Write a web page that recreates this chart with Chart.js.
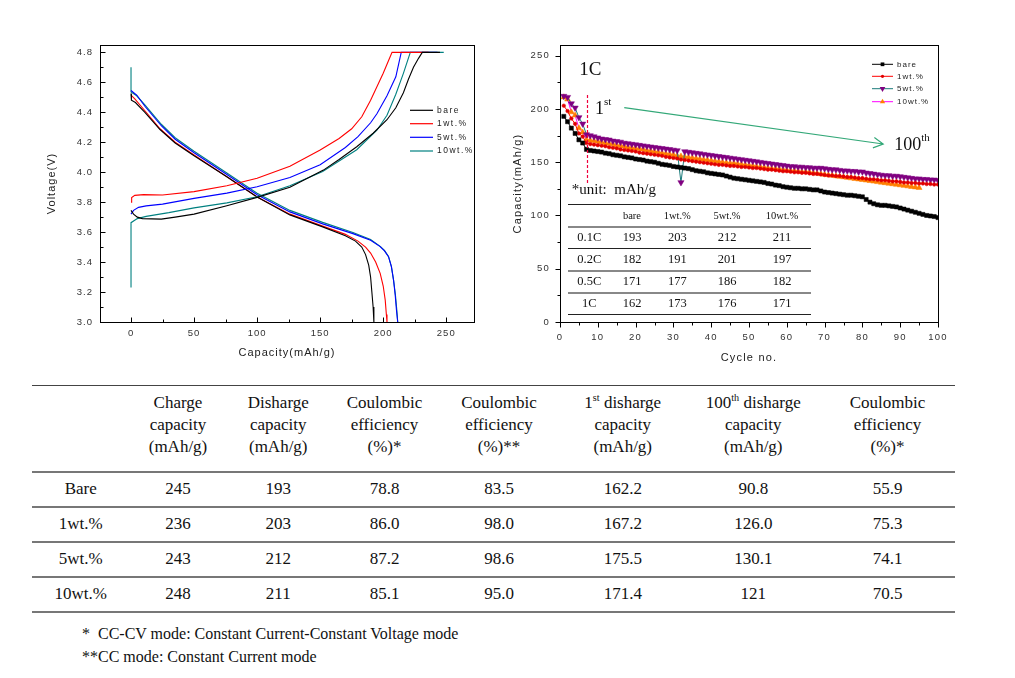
<!DOCTYPE html>
<html lang="en">
<head>
<meta charset="UTF-8" />
<title>Charge/discharge and cycling</title>
<script src="https://cdn.jsdelivr.net/npm/chart.js"></script>
<style>
  body { margin: 0; width: 1015px; height: 678px; position: relative; overflow: hidden; background: #fff; }
  .wrap { position: absolute; }
  table { position: absolute; border-collapse: collapse; table-layout: fixed; font-family: "Liberation Serif", "Times New Roman", serif; color: #111; }
  td { padding: 0; text-align: center; white-space: nowrap; }
  #main { left: 32px; top: 385px; width: 923px; font-size: 17px; }
  #main thead tr { height: 86px; border-top: 1px solid #444; border-bottom: 2px solid #777; }
  #main thead td { vertical-align: top; padding-top: 6px; line-height: 22px; }
  #main tbody tr { height: 35px; border-bottom: 2px solid #777; }
  #inset { left: 568px; top: 204px; width: 243px; font-size: 12.5px; }
  #inset thead tr { height: 22px; border-top: 1px solid #222; border-bottom: 2.5px solid #888; font-size: 10.5px; }
  #inset tbody tr { height: 22px; }
  #inset tbody tr.k { border-bottom: 1px solid #222; }
  #inset tbody tr.g { border-bottom: 2px solid #888; }
  sup { font-size: 60%; line-height: 0; }
  #notes { position: absolute; left: 82px; top: 622px; font-family: "Liberation Serif", "Times New Roman", serif; font-size: 16px; line-height: 23px; color: #111; }
</style>
</head>
<body>
<div class="wrap" style="left:0;top:0;width:490px;height:380px"><canvas id="voltChart"></canvas></div>
<div class="wrap" style="left:490px;top:0;width:525px;height:380px"><canvas id="cycleChart"></canvas></div>
<table id="inset"></table>
<table id="main"></table>
<div id="notes">*&nbsp; CC-CV mode: Constant Current-Constant Voltage mode<br>**CC mode: Constant Current mode</div>

<script>
  const seriesNames = ["bare", "1wt.%", "5wt.%", "10wt.%"];

  // voltage profiles [capacity, voltage]
  const bareCharge = [[0,3.745],[2,3.72],[5,3.70],[9,3.69],[24,3.687],[35,3.70],[50,3.72],[76,3.776],[100,3.832],[126,3.90],[152.6,4.014],[165,4.085],[179,4.17],[192,4.26],[203,4.35],[210,4.43],[216,4.53],[220,4.62],[224,4.70],[228,4.76],[231,4.8],[245,4.8]];
  const oneCharge = [[0,3.80],[0.5,3.83],[3,3.845],[10,3.85],[25,3.848],[50,3.87],[76,3.91],[100,3.96],[126,4.04],[150,4.148],[165,4.225],[175,4.29],[183,4.37],[190,4.48],[195,4.57],[200,4.66],[204,4.74],[207,4.8],[236,4.8]];
  const fiveCharge = [[0,3.72],[2,3.745],[6,3.765],[12,3.775],[25,3.787],[50,3.825],[76,3.86],[100,3.903],[126,3.965],[150,4.05],[170,4.165],[180,4.237],[190,4.33],[195,4.39],[203,4.51],[210,4.637],[214.3,4.8],[243,4.8]];
  const tenCharge = [[0,3.23],[0,3.663],[5,3.69],[12,3.705],[30,3.73],[50,3.762],[76,3.795],[100,3.836],[126,3.91],[152,4.005],[179,4.15],[195,4.28],[203,4.38],[210,4.52],[216,4.66],[221.5,4.8],[248,4.8]];
  const bareDis = [[0,4.525],[0.3,4.48],[3.5,4.465],[11,4.40],[23,4.285],[35,4.195],[50,4.11],[76,3.97],[100,3.835],[126,3.715],[152,3.635],[170,3.575],[178,3.54],[183,3.5],[186,3.45],[188.5,3.38],[190,3.3],[191,3.2],[192,3.1],[192.6,3.0]];
  const oneDis = [[0,4.515],[3,4.49],[11,4.41],[23,4.29],[35,4.2],[50,4.115],[76,3.97],[100,3.835],[126,3.72],[152,3.64],[170,3.585],[180,3.54],[186,3.5],[190,3.46],[194,3.4],[197.6,3.325],[200,3.24],[201.6,3.146],[202.5,3.05],[203,3.0]];
  const fiveDis = [[0,4.545],[4.5,4.515],[11,4.44],[24,4.31],[35,4.22],[50,4.13],[76,3.985],[100,3.85],[126,3.735],[152,3.655],[176,3.59],[190,3.545],[197.6,3.503],[201,3.475],[204.2,3.436],[206.5,3.37],[208.2,3.28],[209.5,3.18],[210.5,3.08],[211.5,3.0]];
  const tenDis = [[0,4.70],[0,4.535],[4.5,4.51],[11,4.45],[24,4.32],[35,4.23],[50,4.14],[76,3.995],[100,3.86],[126,3.745],[152,3.665],[176,3.597],[190,3.55],[197.6,3.505],[201,3.478],[204.2,3.438],[206.5,3.37],[208.2,3.28],[209.7,3.18],[210.8,3.08],[211.5,3.0]];

  // discharge capacity per cycle (cycle 1..n)
  const bareCycle = [193,188,182,177,171,168,162,161,160.5,160,
    159.5,158.5,158,157,156.5,156,155,154.5,154,153,
    152.5,152,151,150.5,150,149,148,147.5,147,146,
    145.5,145,144.5,144,143,142,141.5,141,140,139.5,
    139,138.5,138,137,136,135,134.5,134,133.5,133,
    132.5,132,131.5,131,130,129.5,128.5,128,127,126.5,
    126,125.5,125.5,125,125,124.5,124,124,123,122,
    121.5,121,120.5,120,119.5,119,119,118.5,118,117.5,
    115,112.5,111,110,109.5,109.5,109,108.5,108,107,
    106,105,104,103,102,101,100,99.5,99,98];
  const oneCycle = [203,198,191,186,177,174,168,167,166.5,166,
    165.5,165,164,163.5,163,162,161.5,161,160.5,160,
    159,158.5,158,157.5,157,156.5,156,155,154.5,154,
    153.5,152.5,152,151.5,151,150.5,150,149.5,149,148.5,
    148,147.5,147.5,147,146.5,146.5,146,145.5,145.5,145,
    144.5,144.5,144,143.5,143,143,142.5,142,141.5,141.5,
    141,140.5,140.5,140,140,139.5,139,139,138.5,138,
    137.5,137.5,137,137,136.5,136,136,135.5,135,135,
    134.5,134,134,133.5,133,133,132.5,132,132,131.5,
    131,131,130.5,130.5,130,130,129.5,129.5,129,129];
  const fiveCycle = [212,211,205,201,192,186,176,175,174,173,
    172,171.5,171,170,169.5,169,168,167.5,167,166.5,
    166,165.5,165,164.5,164,163.5,163,162.5,162,161.5,
    161,131,160,159.5,159,158.5,158,157.5,157,156.5,
    156,155.5,155,154.5,154,153.5,153,152.5,152,151.5,
    151,150.5,150,149.5,149,148.5,148,147.5,147,146.5,
    146,146,145.5,145.5,145,145,144.5,144.5,144.5,144,
    143.5,143,143,142.5,142,142,141.5,141.5,141,141,
    140,139.5,139,138.5,138,137.5,137.5,137,137,136.5,
    136,135.5,135,134.5,134.5,134,134,133.5,133.5,133];
  const tenCycle = [211,209,197,194,182,178,171,170.5,170,169.5,
    169,168,167.5,167,166,165.5,165,164,163.5,163,
    162.5,162,161,160.5,160,159.5,158.5,158,157.5,157,
    156,155.5,155,154.5,154,153.5,153,152.5,152,151.5,
    151,150.5,150,149.5,149,149,148.5,148,147.5,147,
    146.5,146,145.5,145,144.5,144,144,143.5,143,142.5,
    142,142,141.5,141,141,140.5,140,139.5,139,138.5,
    138,137.5,137,136.5,136,135.5,135,134.5,134,133.5,
    133,132.5,132,131.5,131,130.5,130,129.5,129,128.5,
    128,127.5,127,126.5,126];

  const capTicks = [0, 50, 100, 150, 200, 250];
  const voltTicks = [3.0, 3.2, 3.4, 3.6, 3.8, 4.0, 4.2, 4.4, 4.6, 4.8];
  const cycleTicks = [0, 10, 20, 30, 40, 50, 60, 70, 80, 90, 100];
  const cycCapTicks = [0, 50, 100, 150, 200, 250];

  // inset table
  const rates = ["0.1C", "0.2C", "0.5C", "1C"];
  const rateCaps = [[193,203,212,211],[182,191,201,197],[171,177,186,182],[162,173,176,171]];

  // summary table
  const headers = ["Charge<br>capacity<br>(mAh/g)", "Disharge<br>capacity<br>(mAh/g)", "Coulombic<br>efficiency<br>(%)*", "Coulombic<br>efficiency<br>(%)**", "1<sup>st</sup> disharge<br>capacity<br>(mAh/g)", "100<sup>th</sup> disharge<br>capacity<br>(mAh/g)", "Coulombic<br>efficiency<br>(%)*"];
  const rowNames = ["Bare", "1wt.%", "5wt.%", "10wt.%"];
  const chargeCap = ["245", "236", "243", "248"];
  const dischargeCap = ["193", "203", "212", "211"];
  const ceCCCV = ["78.8", "86.0", "87.2", "85.1"];
  const ceCC = ["83.5", "98.0", "98.6", "95.0"];
  const firstDis = ["162.2", "167.2", "175.5", "171.4"];
  const hundredthDis = ["90.8", "126.0", "130.1", "121"];
  const retention = ["55.9", "75.3", "74.1", "70.5"];

  const sans = '"Liberation Sans", Arial, sans-serif';
  const serif = '"Liberation Serif", "Times New Roman", serif';

  // build tables
  const insetEl = document.getElementById("inset");
  const iw = [42.5, 43, 47.5, 52, 58];
  let h = "<colgroup>" + iw.map((w) => `<col style="width:${w}px">`).join("") + "</colgroup>";
  h += "<thead><tr><td></td>" + seriesNames.map((s) => `<td>${s}</td>`).join("") + "</tr></thead><tbody>";
  rates.forEach((r, i) => {
    const cls = i === 1 || i === 2 ? "g" : "k";
    h += `<tr class="${cls}"><td>${r}</td>` + rateCaps[i].map((v) => `<td>${v}</td>`).join("") + "</tr>";
  });
  insetEl.innerHTML = h + "</tbody>";

  const mainEl = document.getElementById("main");
  const mw = [97.5, 97, 103.5, 109, 120, 127.5, 133.5, 135];
  const cols = [chargeCap, dischargeCap, ceCCCV, ceCC, firstDis, hundredthDis, retention];
  let m = "<colgroup>" + mw.map((w) => `<col style="width:${w}px">`).join("") + "</colgroup>";
  m += "<thead><tr><td></td>" + headers.map((t) => `<td>${t}</td>`).join("") + "</tr></thead><tbody>";
  rowNames.forEach((r, i) => {
    m += `<tr><td>${r}</td>` + cols.map((c) => `<td>${c[i]}</td>`).join("") + "</tr>";
  });
  mainEl.innerHTML = m + "</tbody>";

  // axes frame with major + minor ticks
  function drawFrame(chart, inward) {
    const { ctx, chartArea: a } = chart;
    ctx.save();
    ctx.strokeStyle = "#000";
    ctx.lineWidth = 1;
    ctx.strokeRect(a.left + 0.5, a.top + 0.5, a.right - a.left, a.bottom - a.top);
    const d = inward ? -1 : 1;
    const mark = (s, v, len) => {
      const p = Math.round(s.getPixelForValue(v)) + 0.5;
      if (s.axis === "x") {
        ctx.moveTo(p, a.bottom + 0.5);
        ctx.lineTo(p, a.bottom + 0.5 + d * len);
      } else {
        ctx.moveTo(a.left + 0.5, p);
        ctx.lineTo(a.left + 0.5 - d * len, p);
      }
    };
    ctx.beginPath();
    [chart.scales.x, chart.scales.y].forEach((s) => {
      const vals = s.ticks.map((t) => t.value);
      const step = vals[1] - vals[0];
      vals.forEach((v, i) => {
        mark(s, v, 5);
        if (i === 0 && v - step / 2 > s.min) mark(s, v - step / 2, 3);
        if (v + step / 2 < s.max) mark(s, v + step / 2, 3);
      });
    });
    ctx.stroke();
    ctx.restore();
  }

  function marker(ctx, style, x, y, r, color) {
    ctx.fillStyle = color;
    ctx.beginPath();
    if (style === "rect") ctx.rect(x - r * 0.71, y - r * 0.71, r * 1.42, r * 1.42);
    else if (style === "circle") ctx.arc(x, y, r, 0, Math.PI * 2);
    else if (style === "down") { ctx.moveTo(x - r * 0.87, y - r * 0.5); ctx.lineTo(x + r * 0.87, y - r * 0.5); ctx.lineTo(x, y + r); }
    else { ctx.moveTo(x - r * 0.87, y + r * 0.5); ctx.lineTo(x + r * 0.87, y + r * 0.5); ctx.lineTo(x, y - r); }
    ctx.closePath();
    ctx.fill();
  }

  const voltColors = ["#000000", "#ff0000", "#0000ff", "#008080"];

  const voltPlugin = {
    id: "voltFrame",
    beforeDraw(chart) { chart.ctx.letterSpacing = "1px"; },
    afterDraw(chart) {
      drawFrame(chart, true);
      const ctx = chart.ctx;
      ctx.save();
      ctx.letterSpacing = "1.5px";
      ctx.font = "8.5px " + sans;
      ctx.textBaseline = "middle";
      [110.3, 123.7, 137.3, 151].forEach((y, i) => {
        ctx.strokeStyle = voltColors[i];
        ctx.lineWidth = 1.2;
        ctx.beginPath();
        ctx.moveTo(410, y);
        ctx.lineTo(433, y);
        ctx.stroke();
        ctx.fillStyle = "#222";
        ctx.fillText(seriesNames[i], 437, y);
      });
      ctx.restore();
    },
  };

  const line = (data, color) => ({ data, borderColor: color, backgroundColor: color, showLine: true, pointRadius: 0, borderWidth: 1.1, fill: false });

  new Chart(document.getElementById("voltChart"), {
    type: "scatter",
    data: {
      datasets: [
        line(bareCharge, voltColors[0]), line(oneCharge, voltColors[1]), line(fiveCharge, voltColors[2]), line(tenCharge, voltColors[3]),
        line(bareDis, voltColors[0]), line(oneDis, voltColors[1]), line(fiveDis, voltColors[2]), line(tenDis, voltColors[3]),
      ],
    },
    options: {
      animation: false,
      responsive: true,
      maintainAspectRatio: false,
      layout: { padding: { left: 0, top: 45, right: 16, bottom: 10 } },
      plugins: { legend: { display: false }, tooltip: { enabled: false } },
      scales: {
        x: {
          type: "linear", min: -24.6, max: 272,
          afterBuildTicks: (s) => { s.ticks = capTicks.map((v) => ({ value: v })); },
          afterFit: (s) => { s.height = 48; },
          grid: { display: false, drawTicks: false }, border: { display: false },
          ticks: { autoSkip: false, maxRotation: 0, padding: 6, color: "#333", font: { family: sans, size: 9.5 } },
          title: { display: true, text: "Capacity(mAh/g)", color: "#222", font: { family: sans, size: 11 }, padding: { top: 0, bottom: 10.4 } },
        },
        y: {
          type: "linear", min: 3.0, max: 4.849,
          afterBuildTicks: (s) => { s.ticks = voltTicks.map((v) => ({ value: v })); },
          afterFit: (s) => { s.width = 100; },
          grid: { display: false, drawTicks: false }, border: { display: false },
          ticks: { autoSkip: false, padding: 7, color: "#333", font: { family: sans, size: 9.5 }, callback: (v) => Number(v).toFixed(1) },
          title: { display: true, text: "Voltage(V)", color: "#222", font: { family: sans, size: 11 }, padding: { top: 45.4, bottom: 0 } },
        },
      },
    },
    plugins: [voltPlugin],
  });

  const cycleStyles = [
    { line: "#000000", mark: "#000000", style: "rect", r: 2.9 },
    { line: "#ff0000", mark: "#e00000", style: "circle", r: 1.8 },
    { line: "#1a7a7a", mark: "#800080", style: "down", r: 3.6 },
    { line: "#ff00ff", mark: "#ff8000", style: "up", r: 3.4 },
  ];
  const cycleData = [bareCycle, oneCycle, fiveCycle, tenCycle];

  const cyclePlugin = {
    id: "cycleFrame",
    beforeDraw(chart) { chart.ctx.letterSpacing = "1.2px"; },
    afterDraw(chart) {
      drawFrame(chart, false);
      const { ctx, scales: { x, y } } = chart;
      ctx.save();
      ctx.letterSpacing = "1px";
      ctx.font = "8px " + sans;
      ctx.textBaseline = "middle";
      [64.3, 76.3, 88.7, 101.7].forEach((yy, i) => {
        const st = cycleStyles[i];
        ctx.strokeStyle = st.line;
        ctx.lineWidth = 1;
        ctx.beginPath();
        ctx.moveTo(382, yy);
        ctx.lineTo(403, yy);
        ctx.stroke();
        marker(ctx, st.style, 392.5, yy, st.r * 0.9, st.mark);
        ctx.fillStyle = "#222";
        ctx.fillText(seriesNames[i], 407, yy);
      });

      ctx.letterSpacing = "0px";
      // first 1C cycle marker
      ctx.strokeStyle = "#f0003c";
      ctx.lineWidth = 1.2;
      ctx.setLineDash([3, 2]);
      ctx.beginPath();
      const dx = Math.round(x.getPixelForValue(7.2)) + 0.5;
      ctx.moveTo(dx, y.getPixelForValue(213));
      ctx.lineTo(dx, y.getPixelForValue(130.2));
      ctx.stroke();
      ctx.setLineDash([]);

      // arrow 1st -> 100th
      const x0 = x.getPixelForValue(17), y0 = y.getPixelForValue(201.2);
      const x1 = x.getPixelForValue(85.5), y1 = y.getPixelForValue(167.1);
      const ang = Math.atan2(y1 - y0, x1 - x0);
      ctx.strokeStyle = "#33a878";
      ctx.lineWidth = 1.2;
      ctx.beginPath();
      ctx.moveTo(x0, y0);
      ctx.lineTo(x1, y1);
      ctx.moveTo(x1 - 11 * Math.cos(ang - 0.5), y1 - 11 * Math.sin(ang - 0.5));
      ctx.lineTo(x1, y1);
      ctx.lineTo(x1 - 11 * Math.cos(ang + 0.5), y1 - 11 * Math.sin(ang + 0.5));
      ctx.stroke();

      ctx.fillStyle = "#111";
      ctx.textAlign = "left";
      ctx.textBaseline = "middle";
      ctx.font = "19px " + serif;
      ctx.fillText("1C", x.getPixelForValue(5.1), y.getPixelForValue(236.6));
      ctx.font = "18px " + serif;
      let px = x.getPixelForValue(9.26), py = y.getPixelForValue(200);
      ctx.fillText("1", px, py);
      let w = ctx.measureText("1").width;
      ctx.font = "11px " + serif;
      ctx.fillText("st", px + w, py - 7);
      ctx.font = "18px " + serif;
      px = x.getPixelForValue(88.4); py = y.getPixelForValue(166);
      ctx.fillText("100", px, py);
      w = ctx.measureText("100").width;
      ctx.font = "11px " + serif;
      ctx.fillText("th", px + w, py - 7);
      ctx.font = "15px " + serif;
      ctx.fillText("*unit:  mAh/g", x.getPixelForValue(3.1), y.getPixelForValue(124));
      ctx.restore();
    },
  };

  new Chart(document.getElementById("cycleChart"), {
    type: "scatter",
    data: {
      datasets: cycleData.map((vals, i) => ({
        label: seriesNames[i],
        data: vals.map((v, k) => ({ x: k + 1, y: v })),
        showLine: true,
        borderColor: cycleStyles[i].line,
        borderWidth: 1,
        pointStyle: cycleStyles[i].style === "rect" ? "rect" : cycleStyles[i].style === "circle" ? "circle" : "triangle",
        rotation: cycleStyles[i].style === "down" ? 180 : 0,
        pointRadius: cycleStyles[i].r,
        pointBackgroundColor: cycleStyles[i].mark,
        pointBorderColor: cycleStyles[i].mark,
        pointBorderWidth: 0.5,
      })),
    },
    options: {
      animation: false,
      responsive: true,
      maintainAspectRatio: false,
      layout: { padding: { left: 0, top: 45, right: 77, bottom: 10 } },
      plugins: { legend: { display: false }, tooltip: { enabled: false } },
      scales: {
        x: {
          type: "linear", min: 0, max: 100,
          afterBuildTicks: (s) => { s.ticks = cycleTicks.map((v) => ({ value: v })); },
          afterFit: (s) => { s.height = 48; },
          grid: { display: false, drawTicks: false }, border: { display: false },
          ticks: { autoSkip: false, maxRotation: 0, padding: 9.5, color: "#333", font: { family: sans, size: 9.5 } },
          title: { display: true, text: "Cycle no.", color: "#222", font: { family: sans, size: 11 }, padding: { top: 0, bottom: 5.4 } },
        },
        y: {
          type: "linear", min: 0, max: 260,
          afterBuildTicks: (s) => { s.ticks = cycCapTicks.map((v) => ({ value: v })); },
          afterFit: (s) => { s.width = 70; },
          grid: { display: false, drawTicks: false }, border: { display: false },
          ticks: { autoSkip: false, padding: 10, color: "#333", font: { family: sans, size: 9.5 } },
          title: { display: true, text: "Capacity(mAh/g)", color: "#222", font: { family: sans, size: 11 }, padding: { top: 21.4, bottom: 0 } },
        },
      },
    },
    plugins: [cyclePlugin],
  });
</script>
</body>
</html>
